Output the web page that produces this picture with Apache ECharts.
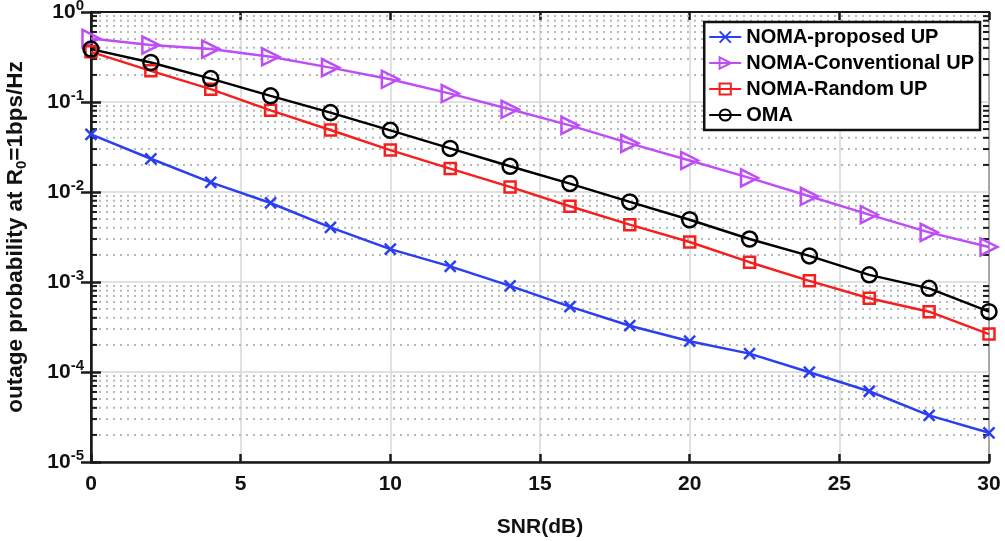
<!DOCTYPE html>
<html lang="en">
<head>
    <meta charset="UTF-8">
    <title>Outage probability vs SNR</title>
    <script src="https://cdn.jsdelivr.net/npm/echarts@6/dist/echarts.min.js"></script>
    <style>
        html, body {
            margin: 0;
            padding: 0;
            background: #fff;
        }

        #chart {
            width: 1005px;
            height: 541px;
        }
    </style>
</head>
<body>
<div id="chart"></div>
<script type="text/javascript">
    // SNR points (dB)
    var snr = [0, 2, 4, 6, 8, 10, 12, 14, 16, 18, 20, 22, 24, 26, 28, 30];

    var nomaProposed = [0.0437, 0.0234, 0.0128, 0.00755, 0.00404, 0.00232, 0.00149, 0.000905,
        0.000532, 0.000327, 0.00022, 0.00016, 0.0000995, 0.0000611, 0.000033, 0.0000211];
    var nomaConventional = [0.509, 0.429, 0.387, 0.318, 0.241, 0.179, 0.124, 0.083,
        0.055, 0.0347, 0.0224, 0.01435, 0.00896, 0.0056, 0.00356, 0.00245];
    var nomaRandom = [0.361, 0.222, 0.139, 0.0808, 0.0488, 0.0292, 0.0182, 0.0114,
        0.00694, 0.00434, 0.00278, 0.00166, 0.00103, 0.00066, 0.000468, 0.000264];
    var oma = [0.387, 0.275, 0.182, 0.117, 0.0762, 0.0484, 0.0305, 0.0193,
        0.0124, 0.00776, 0.00492, 0.003, 0.00195, 0.0012, 0.00085, 0.000468];

    var seriesNames = ['NOMA-proposed UP', 'NOMA-Conventional UP', 'NOMA-Random UP', 'OMA'];

    // minor (2..9) positions of each decade
    var minorVals = [];
    for (var d = -5; d < 0; d++) {
        for (var m = 2; m <= 9; m++) {
            minorVals.push([0, m * Math.pow(10, d)]);
        }
    }

    var font = 'Arial, "Liberation Sans", sans-serif';

    function pairs(vals) {
        return snr.map(function (x, i) {
            return [x, vals[i]];
        });
    }

    function lineSeries(name, color, vals, symbol, size, rotate) {
        return {
            name: name,
            type: 'line',
            data: pairs(vals),
            color: color,
            symbol: symbol,
            symbolSize: size,
            symbolRotate: rotate || 0,
            showAllSymbol: true,
            lineStyle: {color: color, width: 2.5},
            itemStyle: {color: 'rgba(0,0,0,0)', borderColor: color, borderWidth: 2.5},
            z: 5
        };
    }

    var myChart = echarts.init(document.getElementById('chart'));

    var option = {
        animation: false,
        backgroundColor: '#fff',
        grid: {
            left: 91,
            right: 16,
            top: 12,
            bottom: 79,
            outerBoundsMode: 'none',
            show: true,
            borderColor: '#1a1a1a',
            borderWidth: 2
        },
        legend: {
            data: seriesNames,
            orient: 'vertical',
            right: 25,
            top: 22,
            itemWidth: 32,
            itemHeight: 14,
            itemGap: 6,
            padding: [5, 6, 5, 4],
            backgroundColor: '#fff',
            borderColor: '#111',
            borderWidth: 2.5,
            borderRadius: 0,
            textStyle: {fontFamily: font, fontWeight: 'bold', fontSize: 20, color: '#000'}
        },
        xAxis: [{
            type: 'value',
            min: 0,
            max: 30,
            interval: 5,
            name: 'SNR(dB)',
            nameLocation: 'middle',
            nameGap: 55,
            nameTextStyle: {fontFamily: font, fontWeight: 'bold', fontSize: 21, color: '#111'},
            axisLine: {lineStyle: {color: '#1a1a1a', width: 2.5}},
            axisTick: {inside: true, length: 8, lineStyle: {color: '#1a1a1a', width: 2.5}},
            axisLabel: {fontFamily: font, fontWeight: 'bold', fontSize: 21, color: '#111', margin: 12},
            splitLine: {show: true, lineStyle: {color: '#d6d9d9', width: 1.5}}
        }, {
            type: 'value',
            position: 'top',
            min: 0,
            max: 30,
            interval: 5,
            axisLine: {lineStyle: {color: '#1a1a1a', width: 2}},
            axisTick: {inside: true, length: 8, lineStyle: {color: '#1a1a1a', width: 2.5}},
            axisLabel: {show: false},
            splitLine: {show: false}
        }],
        yAxis: [{
            type: 'log',
            logBase: 10,
            min: 1e-5,
            max: 1,
            name: '{t|outage probability at R}{sub|0}{t|=1bps/Hz}',
            nameLocation: 'middle',
            nameGap: 62,
            nameTextStyle: {
                rich: {
                    t: {fontFamily: font, fontWeight: 'bold', fontSize: 22.5, color: '#111'},
                    sub: {fontFamily: font, fontWeight: 'bold', fontSize: 15, color: '#111', padding: [12, 0, 0, 0]}
                }
            },
            axisLine: {lineStyle: {color: '#1a1a1a', width: 2.5}},
            axisTick: {inside: true, length: 10, lineStyle: {color: '#1a1a1a', width: 2.5}},
            axisLabel: {
                margin: 7,
                formatter: function (v) {
                    var e = Math.round(Math.log(v) / Math.LN10);
                    return '{b|10}{s|' + e + '}';
                },
                rich: {
                    b: {fontFamily: font, fontWeight: 'bold', fontSize: 21, color: '#111'},
                    s: {fontFamily: font, fontWeight: 'bold', fontSize: 15, color: '#111', padding: [0, 0, 13, 0]}
                }
            },
            splitLine: {show: true, lineStyle: {color: '#d6d9d9', width: 1.5}}
        }, {
            type: 'log',
            logBase: 10,
            min: 1e-5,
            max: 1,
            position: 'right',
            axisLine: {show: true, lineStyle: {color: '#1a1a1a', width: 2}},
            axisTick: {inside: true, length: 10, lineStyle: {color: '#1a1a1a', width: 2.5}},
            axisLabel: {show: false},
            splitLine: {show: false}
        }],
        series: [
            {
                // dotted minor grid and minor ticks of log axis
                name: 'minor',
                type: 'custom',
                silent: true,
                z: 1,
                data: minorVals,
                renderItem: function (params, api) {
                    var cs = params.coordSys;
                    var y = api.coord([0, api.value(1)])[1];
                    return {
                        type: 'group',
                        children: [{
                            type: 'line',
                            shape: {x1: cs.x + 8, y1: y, x2: cs.x + cs.width - 8, y2: y},
                            style: {stroke: '#b5b9b9', lineWidth: 2, lineDash: [2, 5]}
                        }, {
                            type: 'line',
                            shape: {x1: cs.x, y1: y, x2: cs.x + 6, y2: y},
                            style: {stroke: '#1a1a1a', lineWidth: 2}
                        }, {
                            type: 'line',
                            shape: {x1: cs.x + cs.width - 6, y1: y, x2: cs.x + cs.width, y2: y},
                            style: {stroke: '#1a1a1a', lineWidth: 2}
                        }]
                    };
                }
            },
            lineSeries(seriesNames[0], '#2b3ff0', nomaProposed, 'path://M0,0L10,10M10,0L0,10', 11),
            lineSeries(seriesNames[1], '#bf4df5', nomaConventional, 'triangle', 17, -90),
            lineSeries(seriesNames[2], '#f5201e', nomaRandom, 'rect', 11),
            lineSeries(seriesNames[3], '#000000', oma, 'circle', 15)
        ]
    };
    myChart.setOption(option);
</script>
</body>
</html>
